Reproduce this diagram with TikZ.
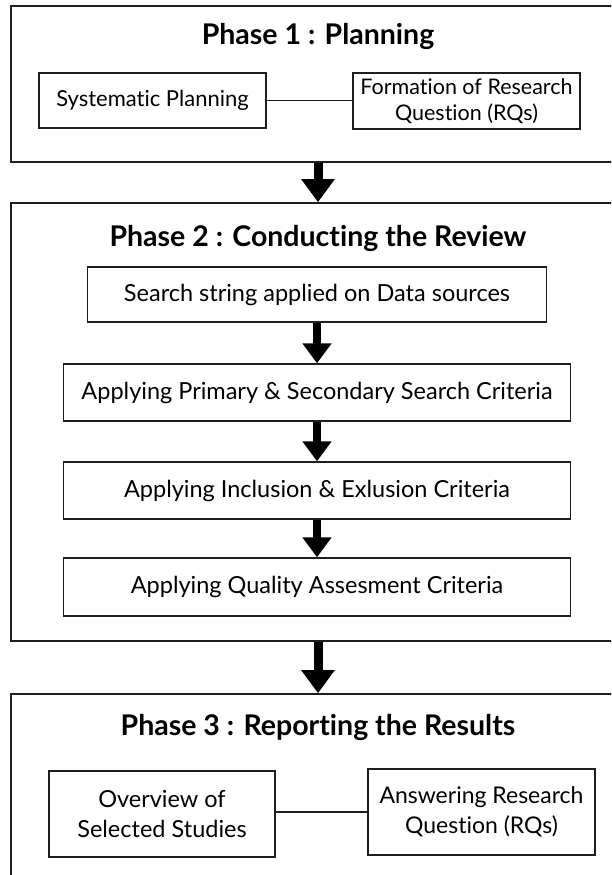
\documentclass[tikz,border=0pt]{standalone}
\usepackage{fontspec}
\setmainfont{Lato}[Ligatures={NoCommon}]
\usetikzlibrary{arrows.meta}
\definecolor{ink}{HTML}{1E1E1E}
\tikzset{
  frame/.style={draw=ink, line width=1.6pt, minimum width=614pt, inner sep=0pt},
  ptitle/.style={font=\bfseries\fontsize{28.5}{32}\selectfont, text=black, inner sep=0pt},
  stepbox/.style={draw=ink, line width=1.4pt, minimum width=507pt, minimum height=57pt, inner sep=0pt, font=\fontsize{23.5}{28}\selectfont, align=center},
  sidebox/.style={draw=ink, line width=1.4pt, minimum width=227pt, inner sep=0pt, align=center},
  flow/.style={line width=8pt, draw=black, -{Triangle[width=28pt,length=20pt]}, shorten >=0pt},
  bigflow/.style={line width=9pt, draw=black, -{Triangle[width=32pt,length=23pt]}},
  link/.style={draw=ink, line width=1.3pt}
}
\begin{document}
\begin{tikzpicture}[x=1pt,y=-1pt]
\useasboundingbox (0,0) rectangle (611,875);
\clip (0,0) rectangle (611,875);
% phase frames
\node[frame, minimum height=156pt] (p1) at (318,84) {};
\node[frame, minimum height=438pt] (p2) at (318,422) {};
\node[frame, minimum height=206pt] (p3) at (318,797) {};
% titles
\node[ptitle] (t1) at (318,36) {Phase 1 : Planning};
\node[ptitle] (t2) at (318,238) {Phase 2 : Conducting the Review};
\node[ptitle] (t3) at (318,727) {Phase 3 : Reporting the Results};
% phase 1
\node[sidebox, minimum height=55pt, font=\fontsize{22}{26}\selectfont] (sp) at (152.5,100.5) {Systematic Planning};
\node[sidebox, minimum height=56pt, font=\fontsize{21.5}{26}\selectfont] (fr) at (466.5,101) {Formation of Research\\Question (RQs)};
\draw[link] (sp.east) -- (sp.east -| fr.west);
% phase 2
\node[stepbox, minimum width=459pt, minimum height=55pt] (s1) at (317,294.5) {Search string applied on Data sources};
\node[stepbox] (s2) at (317,392.5) {Applying Primary \& Secondary Search Criteria};
\node[stepbox] (s3) at (317,490.5) {Applying Inclusion \& Exlusion Criteria};
\node[stepbox, minimum height=58pt] (s4) at (317,587) {Applying Quality Assesment Criteria};
\draw[flow] (s1.south) -- (s2.north);
\draw[flow] (s2.south) -- (s3.north);
\draw[flow] (s3.south) -- (s4.north);
% phase 3
\node[sidebox, minimum width=226pt, minimum height=86pt, font=\fontsize{23.5}{30}\selectfont] (ov) at (162,814) {Overview of\\Selected Studies};
\node[sidebox, minimum height=86pt, font=\fontsize{23}{30}\selectfont] (an) at (481.5,812) {Answering Research\\Question (RQs)};
\draw[link] (an.west) -- (an.west -| ov.east);
% phase arrows
\draw[bigflow] (p1.south) -- (p2.north);
\draw[bigflow] (p2.south) -- (p3.north);
\end{tikzpicture}
\end{document}
